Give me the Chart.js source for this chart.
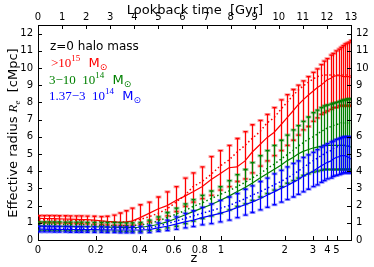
<!DOCTYPE html>
<html lang="en">
<head>
  <meta charset="UTF-8">
  <title>Effective radius vs redshift</title>
  <script src="https://cdn.jsdelivr.net/npm/chart.js"></script>
  <style>
    html, body { margin: 0; padding: 0; background: #fff; }
  </style>
</head>
<body>
  <canvas id="reChart" width="374" height="267"></canvas>

  <script>
    // lookback time of each output [Gyr]
    const lookback = [0.04,0.25,0.46,0.66,0.87,1.12,1.33,1.58,1.79,2.03,2.33,2.62,2.87,3.16,3.41,3.65,3.90,
      4.24,4.61,4.98,5.36,5.73,6.10,6.44,6.81,7.18,7.56,7.93,8.26,8.60,8.89,9.22,9.51,9.80,10.09,10.34,10.59,
      10.80,11.01,11.21,11.42,11.59,11.75,11.88,12.00,12.17,12.25,12.38,12.50,12.58,12.67,12.75,12.83,12.91,12.99];

    // >1e15 Msun
    const redMed = [1.26,1.25,1.25,1.24,1.23,1.22,1.21,1.2,1.19,1.18,1.16,1.12,1.08,1.05,1.02,1.05,1.1,
      1.3,1.55,1.8,2.0,2.3,2.55,2.8,3.1,3.5,3.85,4.2,4.25,4.6,5.1,5.55,5.95,6.25,6.7,7.1,7.5,7.85,8.15,8.4,
      8.65,8.85,9.0,9.15,9.3,9.4,9.5,9.55,9.55,9.55,9.5,9.5,9.5,9.5,9.45];
    const redMean = [1.18,1.18,1.17,1.17,1.16,1.16,1.15,1.15,1.14,1.13,1.12,1.09,1.06,1.04,1.03,1.05,1.08,
      1.2,1.35,1.55,1.8,2.2,2.6,3.1,3.4,3.8,4.3,4.65,5.1,5.5,5.9,6.3,6.8,7.1,7.6,8.0,8.4,8.7,8.95,9.15,
      9.35,9.5,9.55,9.6,9.6,9.6,9.6,9.6,9.6,9.6,9.6,9.6,9.6,9.55,9.55];
    const redLo = [1.0,1.0,1.0,0.99,0.98,0.98,0.97,0.96,0.95,0.94,0.92,0.9,0.88,0.86,0.85,0.85,0.86,
      0.92,1.05,1.2,1.4,1.65,1.95,2.2,2.4,2.6,2.9,3.1,3.4,3.55,3.9,4.3,4.6,4.9,5.2,5.5,5.8,6.1,6.4,6.6,
      6.9,7.1,7.3,7.4,7.5,7.6,7.7,7.7,7.8,7.8,7.8,7.8,7.8,7.8,7.8];
    const redHi = [1.42,1.42,1.42,1.42,1.41,1.41,1.4,1.4,1.4,1.39,1.38,1.36,1.38,1.45,1.57,1.7,1.85,
      2.05,2.2,2.5,2.8,3.1,3.6,3.9,4.25,4.85,5.2,5.5,5.9,6.3,6.7,6.95,7.3,7.7,8.15,8.45,8.75,9.0,9.25,9.5,
      9.75,9.95,10.2,10.4,10.55,10.75,10.85,11.0,11.1,11.2,11.3,11.4,11.45,11.5,11.6];

    // 3-10 1e14 Msun
    const greenMed = [0.82,0.81,0.8,0.8,0.8,0.79,0.79,0.78,0.78,0.77,0.77,0.76,0.75,0.74,0.73,0.72,0.72,
      0.74,0.8,0.9,1.05,1.25,1.45,1.65,1.85,2.05,2.3,2.55,2.8,3.05,3.3,3.6,3.85,4.1,4.35,4.6,4.8,5.0,5.15,5.25,
      5.35,5.4,5.45,5.5,5.5,5.5,5.5,5.5,5.5,5.5,5.5,5.5,5.45,5.45,5.4];
    const greenMean = [0.92,0.92,0.91,0.91,0.9,0.9,0.89,0.89,0.88,0.88,0.87,0.86,0.85,0.84,0.83,0.83,0.84,
      0.87,0.95,1.1,1.3,1.5,1.7,1.95,2.15,2.4,2.65,2.85,3.1,3.35,3.6,3.85,4.15,4.4,4.7,4.95,5.2,5.45,5.65,5.85,
      6.0,6.15,6.3,6.4,6.5,6.6,6.65,6.7,6.75,6.8,6.8,6.8,6.8,6.8,6.75];
    const greenLo = [0.56,0.56,0.56,0.55,0.55,0.55,0.55,0.54,0.54,0.54,0.53,0.53,0.52,0.52,0.51,0.5,0.5,
      0.51,0.55,0.6,0.7,0.8,0.95,1.1,1.25,1.4,1.55,1.75,1.95,2.1,2.3,2.5,2.7,2.9,3.1,3.3,3.45,3.6,3.75,3.85,
      3.95,4.0,4.05,4.1,4.1,4.1,4.1,4.1,4.1,4.1,4.1,4.1,4.1,4.1,4.1];
    const greenHi = [1.05,1.05,1.05,1.05,1.05,1.04,1.04,1.04,1.04,1.03,1.03,1.03,1.02,1.02,1.01,1.0,1.0,
      1.02,1.15,1.35,1.6,1.85,2.1,2.35,2.6,2.85,3.1,3.45,3.8,4.1,4.5,4.9,5.2,5.5,5.8,6.1,6.4,6.65,6.9,7.15,
      7.4,7.55,7.7,7.8,7.85,7.9,7.95,8.0,8.05,8.1,8.15,8.15,8.2,8.2,8.2];

    // 1.37-3 1e14 Msun
    const blueMed = [0.63,0.63,0.62,0.62,0.62,0.61,0.61,0.61,0.6,0.6,0.6,0.59,0.59,0.58,0.58,0.58,0.58,
      0.58,0.6,0.7,0.8,0.92,1.05,1.15,1.3,1.42,1.55,1.7,1.88,2.05,2.2,2.4,2.6,2.8,3.0,3.15,3.35,3.5,3.7,3.85,
      4.0,4.15,4.3,4.4,4.5,4.6,4.7,4.8,4.85,4.9,4.9,4.9,4.85,4.8,4.7];
    const blueMean = [0.7,0.7,0.7,0.69,0.69,0.69,0.68,0.68,0.68,0.67,0.67,0.66,0.66,0.65,0.65,0.65,0.66,
      0.67,0.7,0.8,0.95,1.1,1.25,1.4,1.55,1.7,1.85,2.0,2.2,2.4,2.6,2.8,3.0,3.2,3.4,3.6,3.8,4.0,4.2,4.4,
      4.6,4.75,4.9,5.0,5.1,5.2,5.3,5.4,5.45,5.5,5.5,5.5,5.5,5.45,5.4];
    const blueLo = [0.47,0.47,0.47,0.46,0.46,0.46,0.45,0.45,0.45,0.45,0.44,0.44,0.43,0.43,0.42,0.42,0.42,
      0.42,0.43,0.5,0.55,0.62,0.7,0.78,0.88,0.95,1.05,1.15,1.3,1.45,1.6,1.75,1.9,2.05,2.2,2.35,2.5,2.65,2.8,2.95,
      3.1,3.2,3.35,3.45,3.55,3.6,3.7,3.75,3.8,3.85,3.9,3.9,3.9,3.9,3.9];
    const blueHi = [0.8,0.8,0.8,0.79,0.79,0.79,0.78,0.78,0.78,0.78,0.77,0.77,0.76,0.76,0.76,0.76,0.77,
      0.79,0.85,1.0,1.15,1.35,1.55,1.7,1.9,2.1,2.3,2.5,2.7,2.95,3.15,3.4,3.6,3.85,4.05,4.25,4.45,4.6,4.8,4.95,
      5.1,5.25,5.4,5.5,5.6,5.7,5.75,5.85,5.9,5.95,6.0,6.0,6.0,6.0,5.95];

    // axis ticks
    const zTickLabels = ['0', '0.2', '0.4', '0.6', '0.8', '1', '2', '3', '4', '5'];
    const zTickTimes = [0, 2.40, 4.22, 5.63, 6.72, 7.6, 10.25, 11.42, 12.02, 12.4];
    const timeTicks = [0,1,2,3,4,5,6,7,8,9,10,11,12,13];
    const radiusTicks = [0,1,2,3,4,5,6,7,8,9,10,11,12];

    const SANS = "'DejaVu Sans', sans-serif";
    const SERIF = "'Liberation Serif', serif";

    function pts(arr) {
      return lookback.map((t, i) => ({ x: t, y: arr[i] }));
    }

    function solid(label, arr, color, cap, lo, hi, order) {
      return { label: label, data: pts(arr), borderColor: color, borderWidth: 1.2, pointRadius: 0,
        fill: false, tension: 0, order: order, errLo: lo, errHi: hi, capColor: cap };
    }
    function dotted(label, arr, color, order) {
      return { label: label, data: pts(arr), borderColor: color, borderWidth: 1.5, borderDash: [1.5, 2.5],
        pointRadius: 0, fill: false, tension: 0, order: order };
    }

    // error bars drawn just before their line
    const errBars = {
      id: 'errBars',
      beforeDatasetDraw(chart, args) {
        const ds = chart.data.datasets[args.index];
        if (!ds.errLo) return;
        const { ctx, chartArea } = chart;
        const x = chart.scales.x, y = chart.scales.y;
        ctx.save();
        ctx.setLineDash([]);
        ctx.beginPath();
        ctx.rect(chartArea.left, chartArea.top, chartArea.width, chartArea.height);
        ctx.clip();
        lookback.forEach((t, i) => {
          const px = Math.round(x.getPixelForValue(t)) + 0.5;
          const yl = y.getPixelForValue(ds.errLo[i]);
          const yh = y.getPixelForValue(ds.errHi[i]);
          ctx.strokeStyle = ds.capColor;
          ctx.lineWidth = 3;
          ctx.beginPath();
          ctx.moveTo(px - 3, yl); ctx.lineTo(px + 3, yl);
          ctx.moveTo(px - 3, yh); ctx.lineTo(px + 3, yh);
          ctx.stroke();
          ctx.strokeStyle = ds.borderColor;
          ctx.lineWidth = 1.3;
          ctx.beginPath();
          ctx.moveTo(px, yl); ctx.lineTo(px, yh);
          ctx.moveTo(px - 2, yl); ctx.lineTo(px + 2, yl);
          ctx.moveTo(px - 2, yh); ctx.lineTo(px + 2, yh);
          ctx.stroke();
        });
        ctx.restore();
      }
    };

    // inward tick marks, matplotlib style
    const inTicks = {
      id: 'inTicks',
      afterDraw(chart) {
        const { ctx, chartArea: a } = chart;
        const s = chart.scales;
        const len = 4;
        ctx.save();
        ctx.setLineDash([]);
        ctx.strokeStyle = '#000';
        ctx.lineWidth = 1;
        ctx.beginPath();
        s.x.ticks.forEach(t => {
          const px = Math.round(s.x.getPixelForValue(t.value)) + 0.5;
          ctx.moveTo(px, a.bottom); ctx.lineTo(px, a.bottom - len);
        });
        s.x2.ticks.forEach(t => {
          const px = Math.round(s.x2.getPixelForValue(t.value)) + 0.5;
          ctx.moveTo(px, a.top); ctx.lineTo(px, a.top + len);
        });
        s.y.ticks.forEach(t => {
          const py = Math.round(s.y.getPixelForValue(t.value)) + 0.5;
          ctx.moveTo(a.left, py); ctx.lineTo(a.left + len, py);
          ctx.moveTo(a.right, py); ctx.lineTo(a.right - len, py);
        });
        ctx.stroke();
        ctx.restore();
      }
    };

    function drawRich(ctx, x, y, parts) {
      let cx = x;
      parts.forEach(p => {
        ctx.font = p.font;
        ctx.fillStyle = p.color;
        ctx.fillText(p.t, cx, y + (p.dy || 0));
        cx += ctx.measureText(p.t).width;
      });
      return cx - x;
    }

    function massParts(nums, exp, color) {
      const parts = [{ t: nums, font: '13px ' + SERIF, color: color }];
      if (exp) parts.push({ t: exp, font: '9px ' + SERIF, color: color, dy: -6 });
      parts.push({ t: '  M', font: '13px ' + SANS, color: color });
      parts.push({ t: '\u2299', font: '9px ' + SANS, color: color, dy: 3 });
      return parts;
    }

    const texts = {
      id: 'texts',
      afterDraw(chart) {
        const ctx = chart.ctx;
        ctx.save();
        ctx.textBaseline = 'alphabetic';
        ctx.textAlign = 'left';

        ctx.font = '12px ' + SANS;
        ctx.fillStyle = '#000';
        ctx.fillText('z=0 halo mass', 50, 50);
        drawRich(ctx, 51, 67, massParts('>10', '15', '#ff0000'));
        drawRich(ctx, 49, 84, massParts('3\u221210  10', '14', '#008000'));
        drawRich(ctx, 49, 100, massParts('1.37\u22123  10', '14', '#0000ff'));

        // axis titles
        ctx.fillStyle = '#000';
        ctx.font = '13px ' + SANS;
        ctx.textAlign = 'center';
        ctx.fillText('Lookback time  [Gyr]', 195, 14);
        ctx.fillText('z', 194, 262);

        ctx.translate(17, 133);
        ctx.rotate(-Math.PI / 2);
        ctx.textAlign = 'left';
        const parts = [
          { t: 'Effective radius ', font: '13px ' + SANS, color: '#000' },
          { t: 'R', font: 'italic 13px ' + SERIF, color: '#000' },
          { t: 'e', font: 'italic 9px ' + SERIF, color: '#000', dy: 3 },
          { t: '  [cMpc]', font: '13px ' + SANS, color: '#000' }
        ];
        let w = 0;
        parts.forEach(p => { ctx.font = p.font; w += ctx.measureText(p.t).width; });
        drawRich(ctx, -w / 2, 0, parts);
        ctx.restore();
      }
    };

    const tickFont = { family: SANS, size: 10 };

    new Chart(document.getElementById('reChart'), {
      type: 'line',
      data: {
        datasets: [
          solid('>1e15', redMed, '#ff0000', 'rgba(255,0,0,0.35)', redLo, redHi, 6),
          dotted('>1e15 mean', redMean, '#ff0000', 5),
          solid('3-10e14', greenMed, '#008000', 'rgba(0,128,0,0.35)', greenLo, greenHi, 4),
          dotted('3-10e14 mean', greenMean, '#008000', 3),
          solid('1.37-3e14', blueMed, '#0000ff', 'rgba(0,0,255,0.35)', blueLo, blueHi, 2),
          dotted('1.37-3e14 mean', blueMean, '#0000ff', 1)
        ]
      },
      options: {
        responsive: false,
        animation: false,
        devicePixelRatio: 1,
        layout: { padding: 0 },
        plugins: { legend: { display: false }, tooltip: { enabled: false } },
        scales: {
          x: {
            type: 'linear', position: 'bottom', min: 0, max: 13,
            grid: { display: false, drawTicks: false },
            border: { display: true, color: '#000', width: 1 },
            afterBuildTicks: s => { s.ticks = zTickTimes.map(v => ({ value: v })); },
            afterFit: s => { s.height = 27; },
            ticks: { autoSkip: false, maxRotation: 0, padding: 4, color: '#000', font: tickFont,
              callback: (v, i) => zTickLabels[i] }
          },
          x2: {
            type: 'linear', position: 'top', min: 0, max: 13,
            grid: { display: false, drawTicks: false },
            border: { display: true, color: '#000', width: 1 },
            afterBuildTicks: s => { s.ticks = timeTicks.map(v => ({ value: v })); },
            afterFit: s => { s.height = 25; },
            ticks: { autoSkip: false, maxRotation: 0, padding: 2, color: '#000', font: tickFont }
          },
          y: {
            type: 'linear', position: 'left', min: 0, max: 12.5,
            grid: { display: false, drawTicks: false },
            border: { display: true, color: '#000', width: 1 },
            afterBuildTicks: s => { s.ticks = radiusTicks.map(v => ({ value: v })); },
            afterFit: s => { s.width = 38; },
            ticks: { padding: 5, color: '#000', font: tickFont }
          },
          y2: {
            type: 'linear', position: 'right', min: 0, max: 12.5,
            grid: { display: false, drawTicks: false },
            border: { display: true, color: '#000', width: 1 },
            afterBuildTicks: s => { s.ticks = radiusTicks.map(v => ({ value: v })); },
            afterFit: s => { s.width = 23; },
            ticks: { padding: 5, color: '#000', font: tickFont }
          }
        }
      },
      plugins: [errBars, inTicks, texts]
    });
  </script>
</body>
</html>
